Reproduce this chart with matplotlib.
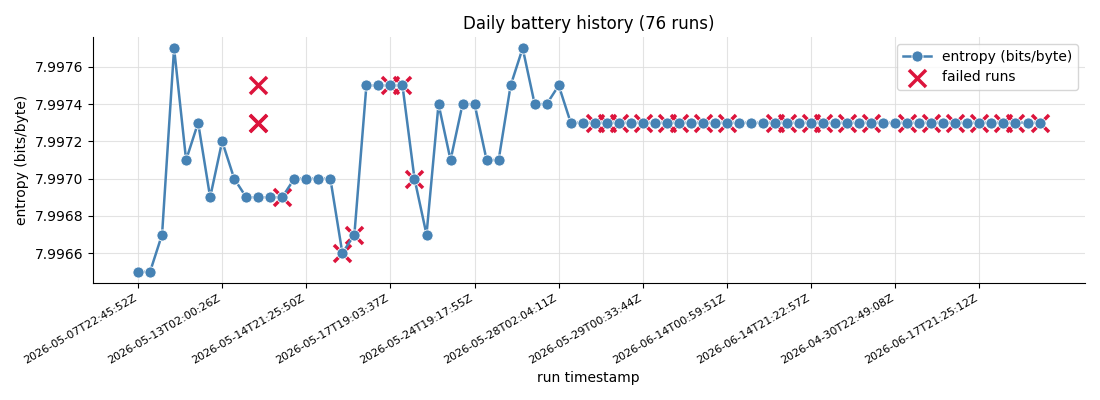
import matplotlib
matplotlib.use("Agg")
import matplotlib.pyplot as plt
from matplotlib.ticker import FormatStrFormatter

entropy = [7.9965, 7.9965, 7.9967, 7.9977, 7.9971, 7.9973, 7.9969, 7.9972, 7.9970, 7.9969,
           7.9969, 7.9969, 7.9969, 7.9970, 7.9970, 7.9970, 7.9970, 7.9966, 7.9967, 7.9975,
           7.9975, 7.9975, 7.9975, 7.9970, 7.9967, 7.9974, 7.9971, 7.9974, 7.9974, 7.9971,
           7.9971, 7.9975, 7.9977, 7.9974, 7.9974, 7.9975] + [7.9973] * 40

failed_idx = [10, 10, 10, 12, 17, 18, 21, 22, 23,
              38, 39, 40, 42, 44, 45, 47, 49, 53, 54, 56, 57, 59, 61,
              64, 66, 68, 70, 72, 73, 75]
failed_val = [7.9975, 7.9973, 7.9973, 7.9969, 7.9966, 7.9967, 7.9975, 7.9975, 7.9970] + [7.9973] * 21

tick_pos = [0, 7, 14, 21, 28, 35, 42, 49, 56, 63, 70]
tick_labels = ["2026-05-07T22:45:52Z", "2026-05-13T02:00:26Z", "2026-05-14T21:25:50Z",
               "2026-05-17T19:03:37Z", "2026-05-24T19:17:55Z", "2026-05-28T02:04:11Z",
               "2026-05-29T00:33:44Z", "2026-06-14T00:59:51Z", "2026-06-14T21:22:57Z",
               "2026-04-30T22:49:08Z", "2026-06-17T21:25:12Z"]

fig = plt.figure(figsize=(11, 4), dpi=100)
ax = fig.add_axes([0.0845, 0.2925, 0.9015, 0.615])

x = list(range(len(entropy)))
ax.plot(x, entropy, color="#4682b4", linewidth=1.8, marker="o", markersize=8,
        markeredgecolor="white", markeredgewidth=0.6, label="entropy (bits/byte)", zorder=3)
ax.scatter(failed_idx, failed_val, marker="x", s=150, color="#dc143c", linewidths=2.5,
           label="failed runs", zorder=2)

ax.set_xticks(tick_pos)
ax.set_xticklabels(tick_labels, rotation=30, ha="right", fontsize=8)
ax.yaxis.set_major_formatter(FormatStrFormatter("%.4f"))
ax.tick_params(axis="y", labelsize=10)
ax.grid(True, color="#dddddd", linewidth=0.8, alpha=0.8)
ax.set_axisbelow(True)
for s in ("top", "right"):
    ax.spines[s].set_visible(False)

ax.set_title("Daily battery history (76 runs)", fontsize=12)
ax.set_xlabel("run timestamp", fontsize=10)
ax.set_ylabel("entropy (bits/byte)", fontsize=10)
ax.legend(loc="upper right", fontsize=10)

fig.savefig("out.png", dpi=100)
